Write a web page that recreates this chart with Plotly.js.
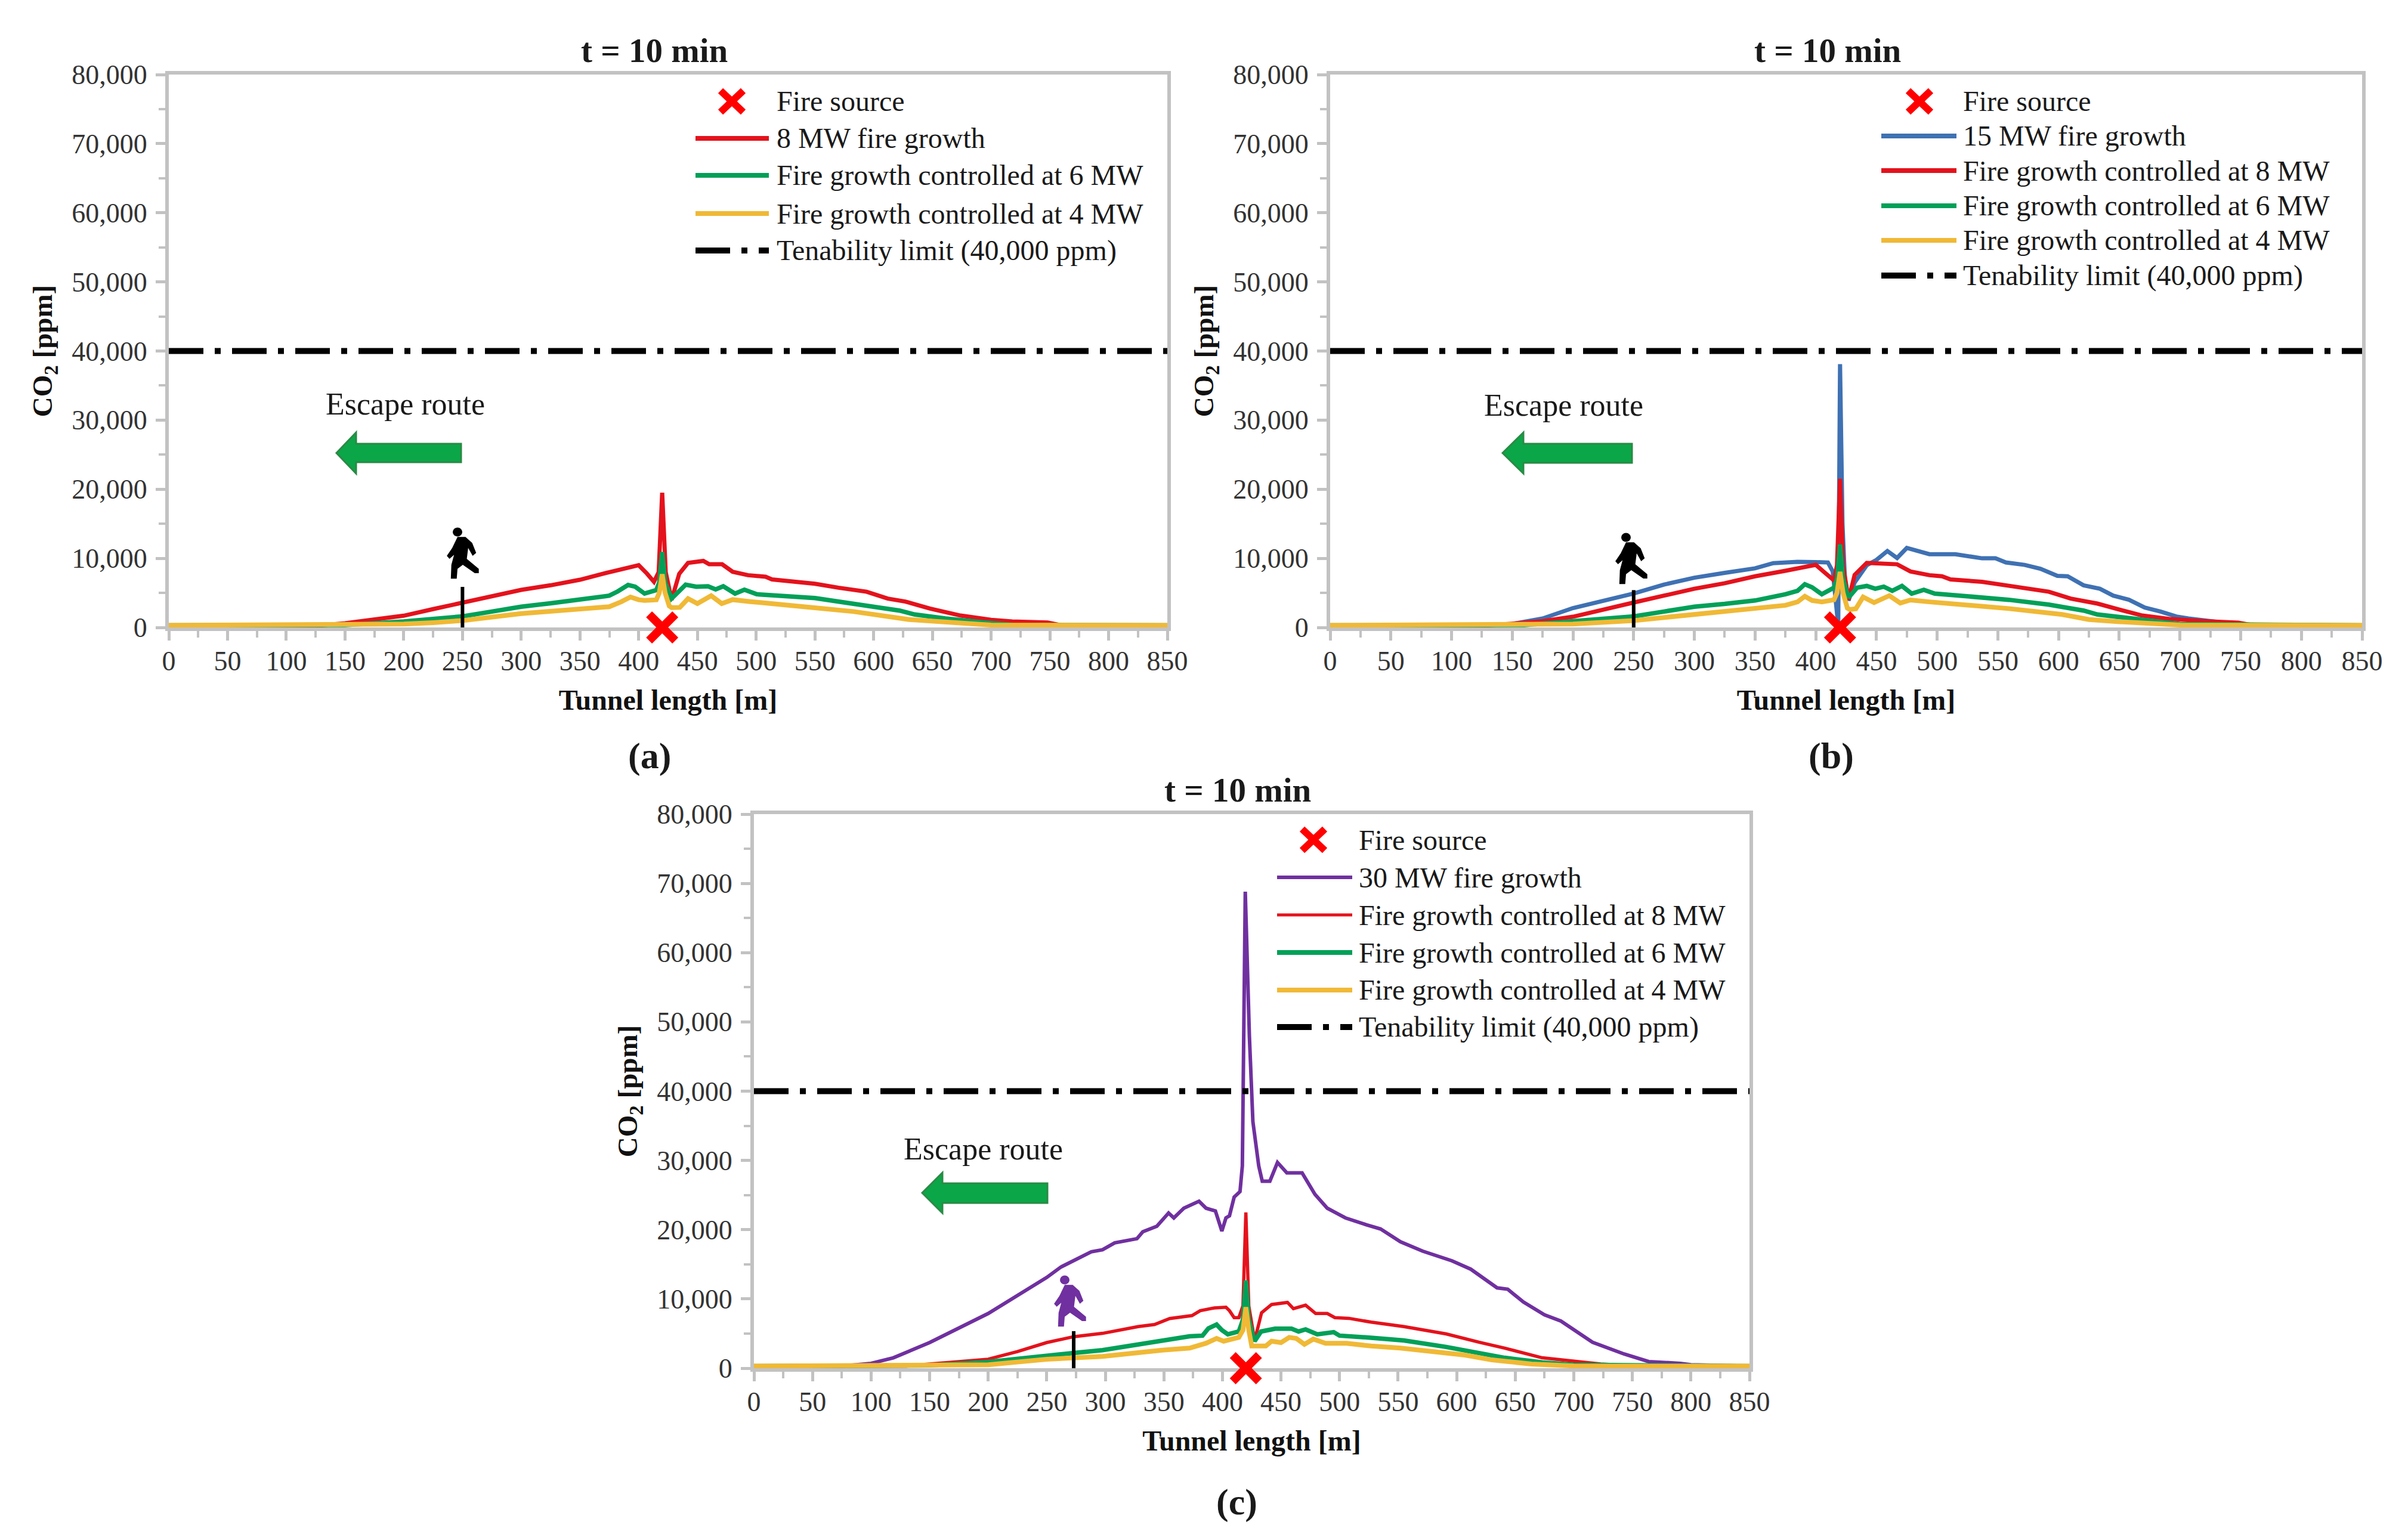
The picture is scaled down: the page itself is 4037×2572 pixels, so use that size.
<!DOCTYPE html>
<html>
<head>
<meta charset="utf-8">
<script src="https://cdn.plot.ly/plotly-3.0.1.min.js"></script>
<style>body{margin:0;background:#fff}</style>
</head>
<body>
<div id="chart"></div>
<script>
const W = 4037, H = 2572;

// panel (a)
const aRedX = [0,130,150,175,200,225,250,275,300,325,350,375,385,393,400,407,413,417,420,423,428,434.5,442,455,460,471,480,493,508,513.5,550,570,594,612,627,648,674,700,718,748,760,850];
const aRedY = [300,300,600,1090,1700,2650,3580,4500,5440,6100,6900,8000,8400,8700,9000,7800,6600,8000,19500,8000,4000,7760,9340,9630,9140,9140,8050,7560,7330,6950,6320,5750,5170,4170,3740,2730,1720,1100,860,720,300,300];
const aGreenX = [0,150,200,225,250,275,300,325,350,375,382,391,397,405,415,417.5,420,422.5,428,440,449,459,465.5,472,482,490,500.5,550,575.6,622,635,661,695,720,850];
const aGreenY = [300,350,860,1200,1600,2300,3000,3500,4000,4600,5200,6150,5900,4900,5400,6500,10900,6500,4170,6180,5900,5950,5500,5950,4900,5460,4800,4250,3600,2440,1870,1300,720,350,300];
const aYellowX = [0,175,200,225,250,300,350,375,385,393,400,405,415,417.5,420,422.5,426,428,435,442,450,461.7,470.7,480,495,544.5,583,630,674,700,850];
const aYellowY = [300,330,490,700,1000,2000,2700,3000,3700,4400,4000,3900,4000,5000,7700,5000,3100,2870,2900,4170,3450,4600,3450,4020,3740,3000,2300,1150,570,350,300];

// panel (b)
const bBlueX = [0,120,150,175,200,225,250,275,300,325,350,365,385,400,410,414,417,418.5,420,422,424,427,432,442,450,459,467,475,493.6,515,537,548,556.6,572,585,599,607.5,620.6,634,645,658,671,684,697,707,726,750,850];
const bBlueY = [300,300,500,1300,2800,3900,4900,6200,7200,7900,8550,9300,9500,9450,9400,8100,3000,300,38100,15000,7000,3900,6500,9000,9770,11060,10050,11500,10600,10600,10000,10000,9400,9050,8500,7470,7400,6100,5600,4600,4000,2870,2300,1580,1300,900,400,300];
const bRedX = [0,130,150,175,200,225,250,275,300,325,350,375,385,400,407,415,417.5,420,422.5,427,432,442,467,478,493.6,504,511,537,559,592,610,632,647,669,691,708,726,748,760,850];
const bRedY = [300,300,550,900,1550,2500,3600,4600,5600,6400,7400,8200,8550,9050,8000,6800,9000,21500,9000,4000,7600,9340,9140,8100,7560,7400,6950,6600,6030,5170,4170,3450,2730,1720,1240,1000,860,700,300,300];
const bGreenX = [0,160,200,225,250,275,300,325,350,375,385,391,397,405,415,417.5,420,422.5,427,434,442,449,456,463,471,479,489,498,526,559,592,620.6,632,658,680,700,850];
const bGreenY = [300,350,900,1200,1600,2300,3000,3400,3900,4800,5300,6250,5800,4800,5750,7000,12000,7000,4300,5750,6000,5600,5900,5300,6000,4900,5450,4900,4450,4000,3300,2440,1870,1300,900,500,300];
const bYellowX = [0,175,200,250,300,350,375,385,391,397,405,415,417.5,420,422.5,426,428,433,439,448,460.6,469.6,478,493.6,515,559,603,625,647,680,700,850];
const bYellowY = [300,330,500,1000,1900,2700,3200,3700,4500,3900,3700,4000,5000,8050,5000,2800,2600,2700,4400,3600,4600,3530,3970,3700,3400,2730,1870,1150,860,570,350,300];

// panel (c)
const cPurpleX = [0,75,100,119,150,200,250,262,288,297.6,308,327,332,344,354,358.5,367,380,386,394,399.5,403,406,410,415,417,419.5,423,426,431,434,440.5,447,455,468,479,489.5,505,523,535,552,571,596,612,634.5,643.6,657,675,689,709.5,716,743,764,791,800,850];
const cPurpleY = [300,300,700,1500,3700,7900,13100,14600,16800,17100,18100,18700,19700,20500,22400,21700,23100,24100,23100,22700,19800,21700,22000,24700,25500,29200,68800,48000,35600,29200,27000,27000,29700,28200,28200,25100,23100,21700,20700,20100,18250,16900,15500,14300,11600,11400,9550,7700,6800,4400,3750,2050,950,700,500,300];
const cRedX = [0,130,150,175,200,225,250,273,297.6,328,342,355,374,381,393,403,406,410,414,417.5,420,422.5,427.5,433.4,442,455.5,460.6,471,479.6,489.5,496,508,527,555,591,619,641,673,700,723,744,760,850];
const cRedY = [300,300,600,900,1300,2400,3700,4550,5030,6000,6300,7170,7600,8300,8700,8800,8300,7300,7300,9000,22500,9000,4000,8000,9200,9500,8600,9100,7900,7900,7300,7200,6650,6000,4950,3750,2900,1500,950,600,400,300,300];
const cGreenX = [0,150,200,250,273,297.6,348.6,372,383,388,395,399.5,404.6,414,417.5,420,422.5,427.5,433,445,459,465,471,481,495,500,527,555,591,625,641,673,700,850];
const cGreenY = [300,400,900,1900,2200,2600,3900,4600,4700,5750,6300,5500,4900,5300,7000,12650,7000,3900,5300,5700,5700,5300,5600,4900,5200,4700,4400,4000,3070,2100,1500,850,500,300];
const cYellowX = [0,175,200,250,273,297.6,348.6,372,386,395,401,414,417.5,420,422.5,425,437,442,450,457,463,470,477.6,488,506,527,552,573,607,630,664,700,850];
const cYellowY = [300,350,500,1300,1500,1700,2600,2900,3600,4300,3900,4450,5500,8800,5500,3200,3200,3900,3700,4450,4300,3450,4200,3600,3600,3200,2900,2550,1900,1200,600,320,300];

const limitX = [0,850];
const limitY = [40000,40000];
const fireX = [420];
const fireY = [0];

const RED = '#e4121c', GREEN = '#00a058', YELLOW = '#f0b936', BLUE = '#3f71b3', PURPLE = '#7030a0';
const LIMIT_DASH = '58px,19px,10px,19px';
const GREY = '#c2c2c2';
const SERIF = '"Liberation Serif", serif';

const px = v => v / W;
const py = v => 1 - v / H;

function line(xa, ya, x, y, color, width) {
  return {x: x, y: y, xaxis: xa, yaxis: ya, mode: 'lines', type: 'scatter',
    line: {color: color, width: width}, hoverinfo: 'skip'};
}

function extras(xa, ya) {
  return [
    {x: limitX, y: limitY, xaxis: xa, yaxis: ya, mode: 'lines', type: 'scatter',
      line: {color: '#000', width: 10, dash: LIMIT_DASH}, hoverinfo: 'skip'},
    {x: fireX, y: fireY, xaxis: xa, yaxis: ya, mode: 'markers', type: 'scatter', cliponaxis: false,
      marker: {symbol: 'x-thin', size: 44, color: '#ff0000', line: {color: '#ff0000', width: 14}}, hoverinfo: 'skip'}
  ];
}

const data = [
  line('x', 'y', aRedX, aRedY, RED, 7),
  line('x', 'y', aGreenX, aGreenY, GREEN, 7.5),
  line('x', 'y', aYellowX, aYellowY, YELLOW, 8),
  ...extras('x', 'y'),
  line('x2', 'y2', bBlueX, bBlueY, BLUE, 7),
  line('x2', 'y2', bRedX, bRedY, RED, 7),
  line('x2', 'y2', bGreenX, bGreenY, GREEN, 7.5),
  line('x2', 'y2', bYellowX, bYellowY, YELLOW, 8),
  ...extras('x2', 'y2'),
  line('x3', 'y3', cPurpleX, cPurpleY, PURPLE, 6),
  line('x3', 'y3', cRedX, cRedY, RED, 5.5),
  line('x3', 'y3', cGreenX, cGreenY, GREEN, 7.5),
  line('x3', 'y3', cYellowX, cYellowY, YELLOW, 8),
  ...extras('x3', 'y3')
];

function xAxis(left, right, anchor) {
  return {
    domain: [px(left), px(right)], anchor: anchor, range: [0, 850],
    tick0: 0, dtick: 50, ticks: 'outside', ticklen: 16, tickwidth: 5, tickcolor: GREY,
    minor: {dtick: 25, ticks: 'outside', ticklen: 11, tickwidth: 4, tickcolor: GREY},
    showline: true, mirror: true, linecolor: GREY, linewidth: 6, showgrid: false, zeroline: false,
    layer: 'below traces', ticklabelstandoff: -5,
    tickfont: {family: SERIF, size: 46, color: '#333'},
    title: {text: '<b>Tunnel length [m]</b>', standoff: 25, font: {family: SERIF, size: 48, color: '#111'}}
  };
}

function yAxis(top, bottom, anchor) {
  return {
    domain: [py(bottom), py(top)], anchor: anchor, range: [0, 80000],
    tick0: 0, dtick: 10000, tickformat: ',d', ticks: 'outside', ticklen: 16, tickwidth: 5, tickcolor: GREY,
    minor: {dtick: 5000, ticks: 'outside', ticklen: 11, tickwidth: 4, tickcolor: GREY},
    showline: true, mirror: true, linecolor: GREY, linewidth: 6, showgrid: false, zeroline: false,
    layer: 'below traces', ticklabelstandoff: 5,
    tickfont: {family: SERIF, size: 46, color: '#333'},
    title: {text: '<b>CO<sub>2</sub> [ppm]</b>', standoff: 20, font: {family: SERIF, size: 47, color: '#111'}}
  };
}

const shapes = [];
const annotations = [];

function text(x, y, str, size, anchor) {
  annotations.push({xref: 'paper', yref: 'paper', x: px(x), y: py(y), text: str, showarrow: false,
    xanchor: anchor || 'center', yanchor: 'middle', font: {family: SERIF, size: size, color: '#1a1a1a'}});
}

function poly(points, fill, lineColor) {
  const d = points.map((p, i) => (i ? 'L' : 'M') + px(p[0]) + ',' + py(p[1])).join(' ') + ' Z';
  shapes.push({type: 'path', xref: 'paper', yref: 'paper', path: d, fillcolor: fill,
    line: {color: lineColor, width: lineColor === fill ? 0 : 3}});
}

function escapeArrow(tip, base, end, bodyTop, bodyBottom, headTop, headBottom) {
  const mid = (headTop + headBottom) / 2;
  poly([[tip, mid], [base, headTop], [base, bodyTop], [end, bodyTop], [end, bodyBottom], [base, bodyBottom], [base, headBottom]],
    '#0ba648', '#2a8a45');
}

const personOutline = [[0,-8.3],[13.4,-8.3],[24.6,-18.3],[31.3,-35],[25.4,-40],[17.9,-26.7],[15.6,-45],[35.7,-61.7],[35.7,-69],[29,-69],[8.9,-55],[0,-61.7],[-1.3,-78.3],[-11.2,-78.3],[-10.3,-55],[-5.8,-38.3],[-13.4,-45],[-17.9,-40],[-8.9,-26.7]];

function person(cx, cy, color) {
  poly(personOutline.map(p => [cx + p[0], cy - p[1]]), color, color);
  shapes.push({type: 'circle', xref: 'paper', yref: 'paper', fillcolor: color, line: {width: 0},
    x0: px(cx - 8), x1: px(cx + 8), y0: py(cy + 7.5), y1: py(cy - 7.5)});
}

function legendRows(rows, rowY, lineLeft, lineRight, textLeft, crossX, size) {
  rows.forEach((r, i) => {
    const y = rowY[i];
    text(textLeft, y, r[0], size, 'left');
    if (r[1] === 'cross') {
      [[-19, -18, 19, 18], [-19, 18, 19, -18]].forEach(s => shapes.push({type: 'line', xref: 'paper', yref: 'paper',
        x0: px(crossX + s[0]), y0: py(y + s[1]), x1: px(crossX + s[2]), y1: py(y + s[3]),
        line: {color: '#ff0000', width: 12}}));
    } else {
      shapes.push({type: 'line', xref: 'paper', yref: 'paper', x0: px(lineLeft), x1: px(lineRight), y0: py(y), y1: py(y),
        line: {color: r[1], width: r[2], dash: r[3] || 'solid'}});
    }
  });
}

function walkerPost(xa, ya, x, top) {
  shapes.push({type: 'line', xref: xa, yref: ya, x0: x, x1: x, y0: 0, y1: top, line: {color: '#000', width: 6}});
}

// titles and sub captions
text(1097, 85, '<b>t = 10 min</b>', 57);
text(3064, 85, '<b>t = 10 min</b>', 57);
text(2075, 1324, '<b>t = 10 min</b>', 57);
text(1089, 1267, '<b>(a)</b>', 62);
text(3070, 1267, '<b>(b)</b>', 62);
text(2073, 2518, '<b>(c)</b>', 62);

// escape route notes
text(679, 677, 'Escape route', 52);
text(2621, 680, 'Escape route', 52);
text(1648, 1926, 'Escape route', 52);
escapeArrow(564, 597, 773, 744, 775, 725, 794);
escapeArrow(2519, 2554, 2736, 744, 776, 725, 794);
escapeArrow(1546, 1580, 1756, 1984, 2017, 1966, 2034);

person(767, 892, '#000');
person(2726, 901, '#000');
person(1785, 2146, PURPLE);
walkerPost('x', 'y', 250, 5870);
walkerPost('x2', 'y2', 250, 5400);
walkerPost('x3', 'y3', 273, 5350);

legendRows([
  ['Fire source', 'cross'],
  ['8 MW fire growth', RED, 8],
  ['Fire growth controlled at 6 MW', GREEN, 8],
  ['Fire growth controlled at 4 MW', YELLOW, 8],
  ['Tenability limit (40,000 ppm)', '#000', 10, LIMIT_DASH]
], [170, 232, 294, 358, 420], 1166, 1289, 1300, 1227, 48);

legendRows([
  ['Fire source', 'cross'],
  ['15 MW fire growth', BLUE, 8],
  ['Fire growth controlled at 8 MW', RED, 8],
  ['Fire growth controlled at 6 MW', GREEN, 8],
  ['Fire growth controlled at 4 MW', YELLOW, 8],
  ['Tenability limit (40,000 ppm)', '#000', 10, LIMIT_DASH]
], [170, 228, 286, 345, 403, 462], 3154, 3280, 3289, 3218, 48);

legendRows([
  ['Fire source', 'cross'],
  ['30 MW fire growth', PURPLE, 6],
  ['Fire growth controlled at 8 MW', RED, 5],
  ['Fire growth controlled at 6 MW', GREEN, 8],
  ['Fire growth controlled at 4 MW', YELLOW, 8],
  ['Tenability limit (40,000 ppm)', '#000', 10, LIMIT_DASH]
], [1408, 1471, 1534, 1597, 1660, 1722], 2141, 2267, 2276, 2202, 48);

const layout = {
  width: W, height: H,
  margin: {l: 0, r: 0, t: 0, b: 0},
  paper_bgcolor: '#fff', plot_bgcolor: '#fff',
  showlegend: false,
  xaxis: xAxis(283, 1957, 'y'),
  yaxis: yAxis(125, 1052, 'x'),
  xaxis2: xAxis(2230, 3960, 'y2'),
  yaxis2: yAxis(125, 1052, 'x2'),
  xaxis3: xAxis(1264, 2933, 'y3'),
  yaxis3: yAxis(1365, 2294, 'x3'),
  shapes: shapes,
  annotations: annotations
};

Plotly.newPlot('chart', data, layout, {displayModeBar: false, staticPlot: true});
</script>
</body>
</html>
